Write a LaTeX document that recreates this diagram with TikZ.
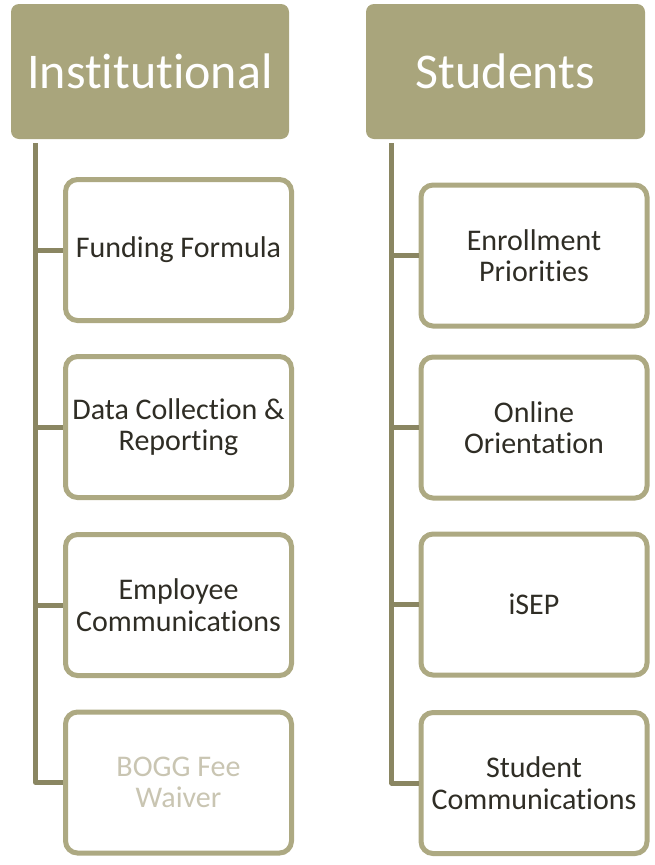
\documentclass[tikz,border=0pt]{standalone}
\usepackage{fontspec}
\setmainfont[Ligatures=NoCommon]{Carlito}

\definecolor{olivefill}{HTML}{A9A57C}
\definecolor{oliveline}{HTML}{ADA982}
\definecolor{trunkcol}{HTML}{8A8662}
\definecolor{darktext}{HTML}{2F2D25}
\definecolor{fadetext}{HTML}{C9C5B2}

\tikzset{
  head/.style={fill=olivefill,draw=none,rounded corners=8pt,minimum width=278pt,
    minimum height=135pt,text=white,font=\fontsize{50}{56}\selectfont},
  item/.style={draw=oliveline,line width=5pt,fill=white,rounded corners=12pt,
    minimum width=226pt,minimum height=141pt,align=center,
    text=darktext,font=\fontsize{30}{31.5}\selectfont},
  trunk/.style={draw=trunkcol,line width=5pt,line join=round}
}

\begin{document}
\begin{tikzpicture}[x=1pt,y=-1pt]
    \useasboundingbox (0,0) rectangle (654,865);

    % --------------------------------------------------------- %
    % ------------- headers
    % --------------------------------------------------------- %
    \node[head] (inst) at (150,71.5) {Institutional};
    \node[head,minimum width=279pt] (stud) at (505.5,71.5) {Students};

    \coordinate (trunkL) at ([xshift=25pt]inst.south west);
    \coordinate (trunkR) at ([xshift=26pt]stud.south west);

    % --------------------------------------------------------- %
    % ------------ Institutional column
    % --------------------------------------------------------- %
    \node[item] (fund) at (178.5,250) {Funding Formula};
    \node[item] (data) at (178.5,427) {Data Collection \&\\Reporting};
    \node[item] (empl) at (178.5,605) {Employee\\Communications};
    \node[item,text=fadetext] (bogg) at (178.5,782.5) {BOGG Fee\\Waiver};

    \draw[trunk] ([yshift=-4pt]trunkL) |- (bogg.west);
    \draw[trunk] (fund.west -| trunkL) -- (fund.west);
    \draw[trunk] (data.west -| trunkL) -- (data.west);
    \draw[trunk] (empl.west -| trunkL) -- (empl.west);

    % --------------------------------------------------------- %
    % ------------ Students column
    % --------------------------------------------------------- %
    \node[item] (enrl) at (534,255.5) {Enrollment\\Priorities};
    \node[item] (orie) at (534,427.5) {Online\\Orientation};
    \node[item] (isep) at (534,604.5) {iSEP};
    \node[item] (comm) at (534,783) {Student\\Communications};

    \draw[trunk] ([yshift=-4pt]trunkR) |- (comm.west);
    \draw[trunk] (enrl.west -| trunkR) -- (enrl.west);
    \draw[trunk] (orie.west -| trunkR) -- (orie.west);
    \draw[trunk] (isep.west -| trunkR) -- (isep.west);

  \end{tikzpicture}
\end{document}
